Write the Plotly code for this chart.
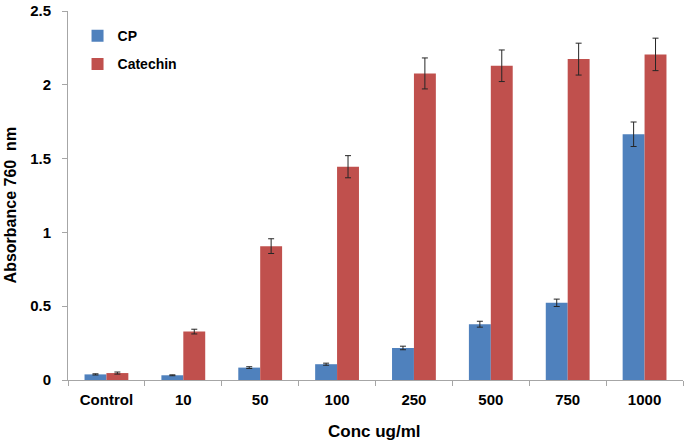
import plotly.graph_objects as go

categories = ["Control", "10", "50", "100", "250", "500", "750", "1000"]
cp_values = [0.038, 0.032, 0.084, 0.107, 0.217, 0.378, 0.523, 1.665]
cp_errors = [0.004, 0.003, 0.006, 0.007, 0.012, 0.02, 0.025, 0.083]
cat_values = [0.047, 0.328, 0.907, 1.445, 2.077, 2.129, 2.174, 2.206]
cat_errors = [0.007, 0.016, 0.05, 0.075, 0.105, 0.107, 0.108, 0.11]
y_ticks = [0, 0.5, 1, 1.5, 2, 2.5]
y_tick_labels = ["0", "0.5", "1", "1.5", "2", "2.5"]

FONT = "Liberation Sans, Arial, sans-serif"
AXIS_GRAY = "#A6A6A6"
ERR_COLOR = "#262626"

fig = go.Figure()
fig.add_trace(go.Bar(
    name="<b>CP</b>", x=categories, y=cp_values,
    marker=dict(color="#4F81BD", line=dict(width=0)),
    error_y=dict(type="data", array=cp_errors, visible=True,
                 color=ERR_COLOR, thickness=1, width=3),
    legendgroup="a",
))
fig.add_trace(go.Bar(
    name="<b>Catechin</b>", x=categories, y=cat_values,
    marker=dict(color="#C0504D", line=dict(width=0)),
    error_y=dict(type="data", array=cat_errors, visible=True,
                 color=ERR_COLOR, thickness=1, width=3),
    legendgroup="b",
))

fig.update_layout(
    width=685, height=442,
    margin=dict(l=68, r=2, t=7, b=62),
    paper_bgcolor="white", plot_bgcolor="white",
    barmode="group", bargap=0.43, bargroupgap=0,
    font=dict(family=FONT, color="black", size=15),
    showlegend=True,
    legend=dict(
        x=0.0155, y=0.975, xanchor="left", yanchor="top",
        bgcolor="rgba(0,0,0,0)", borderwidth=0,
        font=dict(family=FONT, size=14, color="black"),
        traceorder="grouped", tracegroupgap=7,
        itemwidth=30,
    ),
    xaxis=dict(
        type="category",
        tickvals=categories,
        ticktext=["<b>" + c + "</b>" for c in categories],
        showline=True, linecolor=AXIS_GRAY, linewidth=1,
        ticks="outside", tickson="boundaries", ticklen=5,
        tickcolor=AXIS_GRAY, tickwidth=1,
        showgrid=False, zeroline=False,
        tickfont=dict(family=FONT, size=15, color="black"),
        ticklabelstandoff=6,
        ticklabeloverflow="allow",
    ),
    yaxis=dict(
        range=[0, 2.5], tickvals=y_ticks,
        ticktext=["<b>" + t + "</b>" for t in y_tick_labels],
        showline=True, linecolor=AXIS_GRAY, linewidth=1,
        ticks="outside", ticklen=5, tickcolor=AXIS_GRAY, tickwidth=1,
        showgrid=False, zeroline=False,
        tickfont=dict(family=FONT, size=15, color="black"),
        ticklabelstandoff=8,
        ticklabeloverflow="allow",
    ),
    annotations=[
        dict(text="<b>Absorbance 760  nm</b>", textangle=-90,
             xref="paper", yref="paper", x=-0.1106, y=0.4745,
             xanchor="left", yanchor="middle", showarrow=False,
             font=dict(family=FONT, size=16, color="black")),
        dict(text="<b>Conc ug/ml</b>",
             xref="paper", yref="paper", x=0.498, y=-0.1398,
             xanchor="center", yanchor="middle", showarrow=False,
             font=dict(family=FONT, size=17, color="black")),
    ],
)

fig.write_html(
    "out.html",
    config={"displayModeBar": False},
    post_script="document.body.style.margin='0';document.body.style.padding='0';",
)
